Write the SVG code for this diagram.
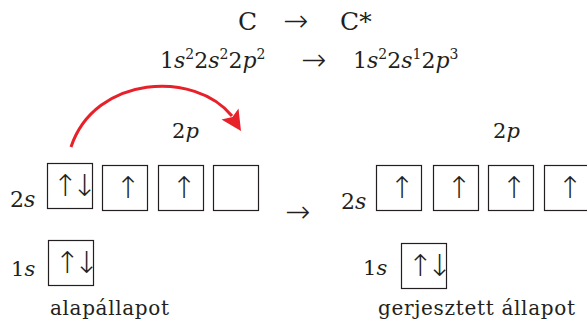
<svg xmlns="http://www.w3.org/2000/svg" width="587" height="322" viewBox="0 0 587 322">
<style>
text{font-family:"DejaVu Serif","Liberation Serif",serif;fill:#231f20}
.i{font-style:italic}
.ar{font-family:"DejaVu Sans",sans-serif;font-weight:200}
.box{fill:#fff;stroke:#231f20;stroke-width:1.2}
.sp{font-family:"DejaVu Sans",sans-serif;font-weight:200;font-size:30px;text-anchor:middle;letter-spacing:-6px}
.spins{opacity:0.99}
</style>
<rect width="587" height="322" fill="#fff"/>
<g id="title">
<text x="238" y="30" font-size="25">C</text>
<text class="ar" x="283" y="31" font-size="30">→</text>
<text x="340" y="30" font-size="25">C*</text>
</g>
<g id="config">
<text x="160" y="68" font-size="22">1<tspan class="i">s</tspan><tspan dy="-9" font-size="14">2</tspan><tspan dy="9">2</tspan><tspan class="i">s</tspan><tspan dy="-9" font-size="14">2</tspan><tspan dy="9">2</tspan><tspan class="i">p</tspan><tspan dy="-9" font-size="14">2</tspan></text>
<text class="ar" x="301" y="70" font-size="30">→</text>
<text x="353" y="68" font-size="22">1<tspan class="i">s</tspan><tspan dy="-9" font-size="14">2</tspan><tspan dy="9">2</tspan><tspan class="i">s</tspan><tspan dy="-9" font-size="14">1</tspan><tspan dy="9">2</tspan><tspan class="i">p</tspan><tspan dy="-9" font-size="14">3</tspan></text>
</g>
<g id="ground">
<text x="172" y="138" font-size="21">2<tspan class="i">p</tspan></text>
<text x="10" y="207" font-size="22">2<tspan class="i">s</tspan></text>
<text x="11" y="276" font-size="21">1<tspan class="i">s</tspan></text>
<g id="g2s"><rect class="box" x="47.5" y="163.5" width="45" height="45"/><text class="sp spins" x="72" y="196">↑↓</text></g>
<g id="g2p1"><rect class="box" x="102.5" y="165.5" width="45" height="45"/><text class="sp spins" x="125" y="198">↑</text></g>
<g id="g2p2"><rect class="box" x="158.5" y="165.5" width="45" height="45"/><text class="sp spins" x="181" y="198">↑</text></g>
<g id="g2p3"><rect class="box" x="213.5" y="165.5" width="45" height="45"/></g>
<g id="g1s"><rect class="box" x="48.5" y="240.5" width="45" height="45"/><text class="sp spins" x="74" y="273">↑↓</text></g>
<text x="50" y="315" font-size="20" textLength="119">alapállapot</text>
</g>
<text class="ar" x="285" y="222" font-size="30">→</text>
<g id="excited">
<text x="493" y="138" font-size="21">2<tspan class="i">p</tspan></text>
<text x="341" y="209" font-size="22">2<tspan class="i">s</tspan></text>
<text x="363" y="275" font-size="21">1<tspan class="i">s</tspan></text>
<g id="e2s"><rect class="box" x="376.5" y="165.5" width="45" height="45"/><text class="sp spins" x="399" y="198">↑</text></g>
<g id="e2p1"><rect class="box" x="433.5" y="165.5" width="45" height="45"/><text class="sp spins" x="456" y="198">↑</text></g>
<g id="e2p2"><rect class="box" x="488.5" y="165.5" width="45" height="45"/><text class="sp spins" x="511" y="198">↑</text></g>
<g id="e2p3"><rect class="box" x="544.5" y="165.5" width="45" height="45"/><text class="sp spins" x="567" y="198">↑</text></g>
<g id="e1s"><rect class="box" x="401.5" y="243.5" width="45" height="45"/><text class="sp spins" x="427" y="276">↑↓</text></g>
<text x="378" y="315" font-size="20" textLength="197">gerjesztett állapot</text>
</g>
<g id="connectors">
<path d="M71,147 C95,75 195,70 232,116" fill="none" stroke="#e8202a" stroke-width="3"/>
<polygon points="241,131 221.5,119.5 232.5,117 238.5,108.5" fill="#e8202a"/>
</g>
</svg>
